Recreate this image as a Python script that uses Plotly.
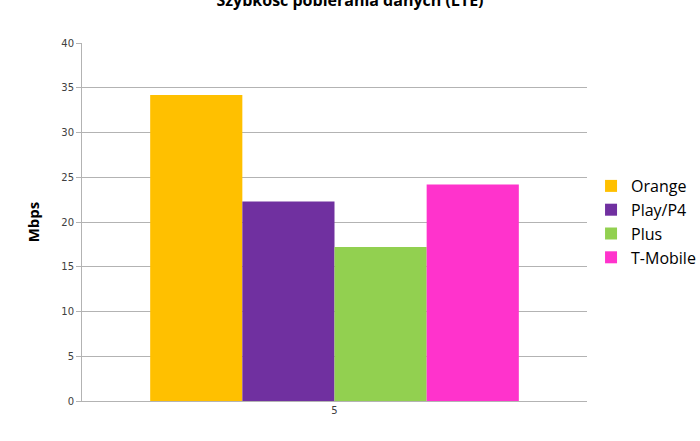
import plotly.graph_objects as go

# dane z wykresu
categories = ["5"]
operators = ["Orange", "Play/P4", "Plus", "T-Mobile"]
speeds = [34.2, 22.3, 17.2, 24.2]
colors = ["#ffc000", "#7030a0", "#92d050", "#ff33cc"]
y_ticks = [0, 5, 10, 15, 20, 25, 30, 35, 40]

fig = go.Figure()

for name, val, col in zip(operators, speeds, colors):
    fig.add_trace(go.Bar(
        x=categories,
        y=[val],
        name=name,
        marker=dict(color=col, line=dict(width=0)),
    ))

fig.update_layout(
    barmode="group",
    bargap=0.27,
    bargroupgap=0,
    width=700,
    height=441,
    plot_bgcolor="white",
    paper_bgcolor="white",
    margin=dict(l=82, r=113, t=43, b=40, autoexpand=False),
    title=dict(
        text="<b>Szybkość pobierania danych (LTE)</b>",
        x=0.5,
        xanchor="center",
        y=0.998,
        yref="container",
        yanchor="middle",
        font=dict(family="Open Sans", size=16, color="#000000"),
    ),
    legend=dict(
        x=1.008,
        y=0.5,
        xanchor="left",
        yanchor="middle",
        font=dict(family="Open Sans", size=16, color="#000000"),
        itemwidth=30,
    ),
    showlegend=True,
)

fig.update_yaxes(
    range=[0, 40],
    tickvals=y_ticks,
    showgrid=True,
    gridcolor="#b3b3b3",
    gridwidth=1,
    showline=True,
    linecolor="#b3b3b3",
    ticks="outside",
    ticklen=5,
    tickcolor="#b3b3b3",
    tickfont=dict(family="DejaVu Sans", size=10, color="#404040"),
    zeroline=False,
    title=dict(text="<b>Mbps</b>", font=dict(family="Open Sans", size=15, color="#000000"), standoff=18),
)

fig.update_xaxes(
    showline=True,
    linecolor="#b3b3b3",
    showgrid=False,
    ticks="",
    tickfont=dict(family="DejaVu Sans", size=10, color="#404040"),
)

# bez domyślnego marginesu strony (8px), żeby wykres stał w rogu okna
fig.write_html(
    "out.html",
    config={"displayModeBar": False},
    post_script="document.body.style.margin='0';",
)
